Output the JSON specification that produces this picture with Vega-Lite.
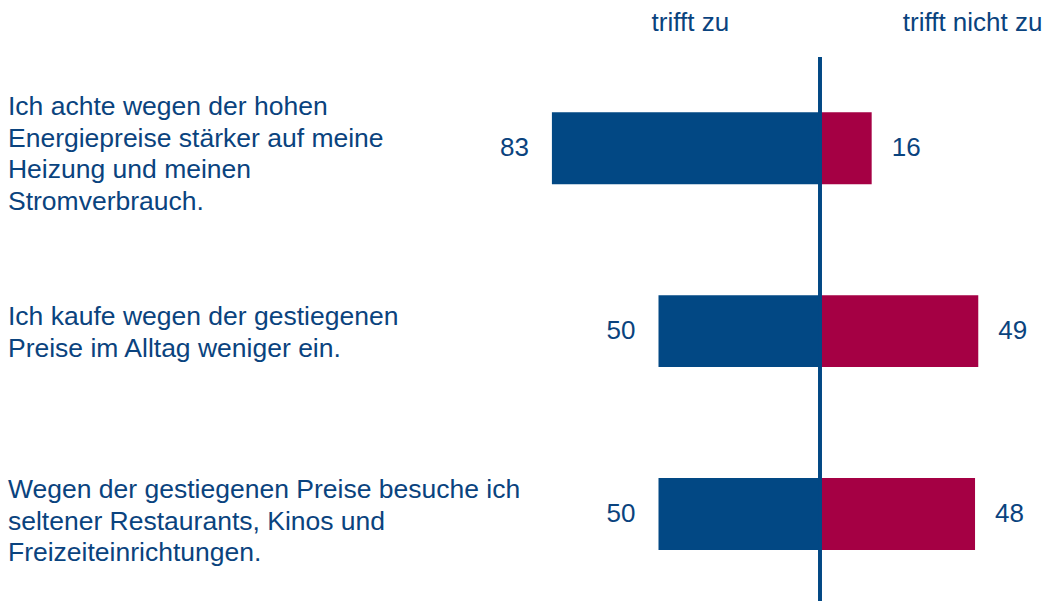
{
  "$schema": "https://vega.github.io/schema/vega-lite/v6.json",
  "autosize": "none",
  "width": 1045,
  "height": 544,
  "padding": {"top": 57, "left": 0, "right": 0, "bottom": 0},
  "background": "white",
  "config": {"view": {"stroke": null}, "font": "Liberation Sans"},
  "data": {
    "values": [
      {"item": "Ich achte wegen der hohen\nEnergiepreise stärker auf meine\nHeizung und meinen\nStromverbrauch.", "zu": 83, "nicht": 16},
      {"item": "Ich kaufe wegen der gestiegenen\nPreise im Alltag weniger ein.", "zu": 50, "nicht": 49},
      {"item": "Wegen der gestiegenen Preise besuche ich\nseltener Restaurants, Kinos und\nFreizeiteinrichtungen.", "zu": 50, "nicht": 48}
    ]
  },
  "encoding": {
    "y": {
      "field": "item",
      "type": "nominal",
      "sort": null,
      "axis": null,
      "scale": {"paddingInner": 0.6066, "paddingOuter": 0.29, "align": 0.52}
    }
  },
  "layer": [
    {
      "encoding": {
        "x": {
          "field": "zu",
          "type": "quantitative",
          "axis": null,
          "scale": {"domain": [-69.66, 253.87], "reverse": true, "nice": false, "zero": false}
        }
      },
      "layer": [
        {
          "mark": {"type": "bar", "color": "#024884"},
          "encoding": {"x2": {"datum": 0}}
        },
        {
          "mark": {"type": "text", "align": "right", "baseline": "middle", "dx": -23, "fontSize": 26, "color": "#0A437E"},
          "encoding": {"text": {"field": "zu", "type": "quantitative"}}
        }
      ]
    },
    {
      "encoding": {
        "x": {
          "field": "nicht",
          "type": "quantitative",
          "scale": {"domain": [-253.87, 69.66], "nice": false, "zero": false},
          "axis": {
            "orient": "top",
            "values": [-40.3, 47.1],
            "labelExpr": "datum.value < 0 ? 'trifft zu' : 'trifft nicht zu'",
            "ticks": false,
            "domain": false,
            "grid": false,
            "title": null,
            "labelFontSize": 26,
            "labelFont": "Liberation Sans",
            "labelColor": "#0A437E",
            "labelPadding": 22,
            "labelBound": false,
            "labelFlush": false,
            "labelOverlap": false
          }
        }
      },
      "layer": [
        {
          "mark": {"type": "bar", "color": "#A50044"},
          "encoding": {"x2": {"datum": 0}}
        },
        {
          "mark": {"type": "text", "align": "left", "baseline": "middle", "dx": 20, "fontSize": 26, "color": "#0A437E"},
          "encoding": {"text": {"field": "nicht", "type": "quantitative"}}
        },
        {
          "transform": [{"filter": {"field": "zu", "equal": 83}}],
          "mark": {"type": "text", "align": "left", "baseline": "middle", "lineBreak": "\n", "lineHeight": 31.5, "dy": -41, "fontSize": 26.5, "color": "#0A437E"},
          "encoding": {
            "x": {"datum": -251.4, "type": "quantitative"},
            "text": {"field": "item", "type": "nominal"}
          }
        },
        {
          "transform": [{"filter": {"field": "nicht", "equal": 49}}],
          "mark": {"type": "text", "align": "left", "baseline": "middle", "lineBreak": "\n", "lineHeight": 31.5, "dy": -14, "fontSize": 26.5, "color": "#0A437E"},
          "encoding": {
            "x": {"datum": -251.4, "type": "quantitative"},
            "text": {"field": "item", "type": "nominal"}
          }
        },
        {
          "transform": [{"filter": {"field": "nicht", "equal": 48}}],
          "mark": {"type": "text", "align": "left", "baseline": "middle", "lineBreak": "\n", "lineHeight": 31.5, "dy": -24, "fontSize": 26.5, "color": "#0A437E"},
          "encoding": {
            "x": {"datum": -251.4, "type": "quantitative"},
            "text": {"field": "item", "type": "nominal"}
          }
        },
        {
          "mark": {"type": "rule", "color": "#024884", "strokeWidth": 3.5},
          "encoding": {"x": {"datum": 0, "type": "quantitative"}, "y": null}
        }
      ]
    }
  ],
  "resolve": {"scale": {"x": "independent"}}
}
